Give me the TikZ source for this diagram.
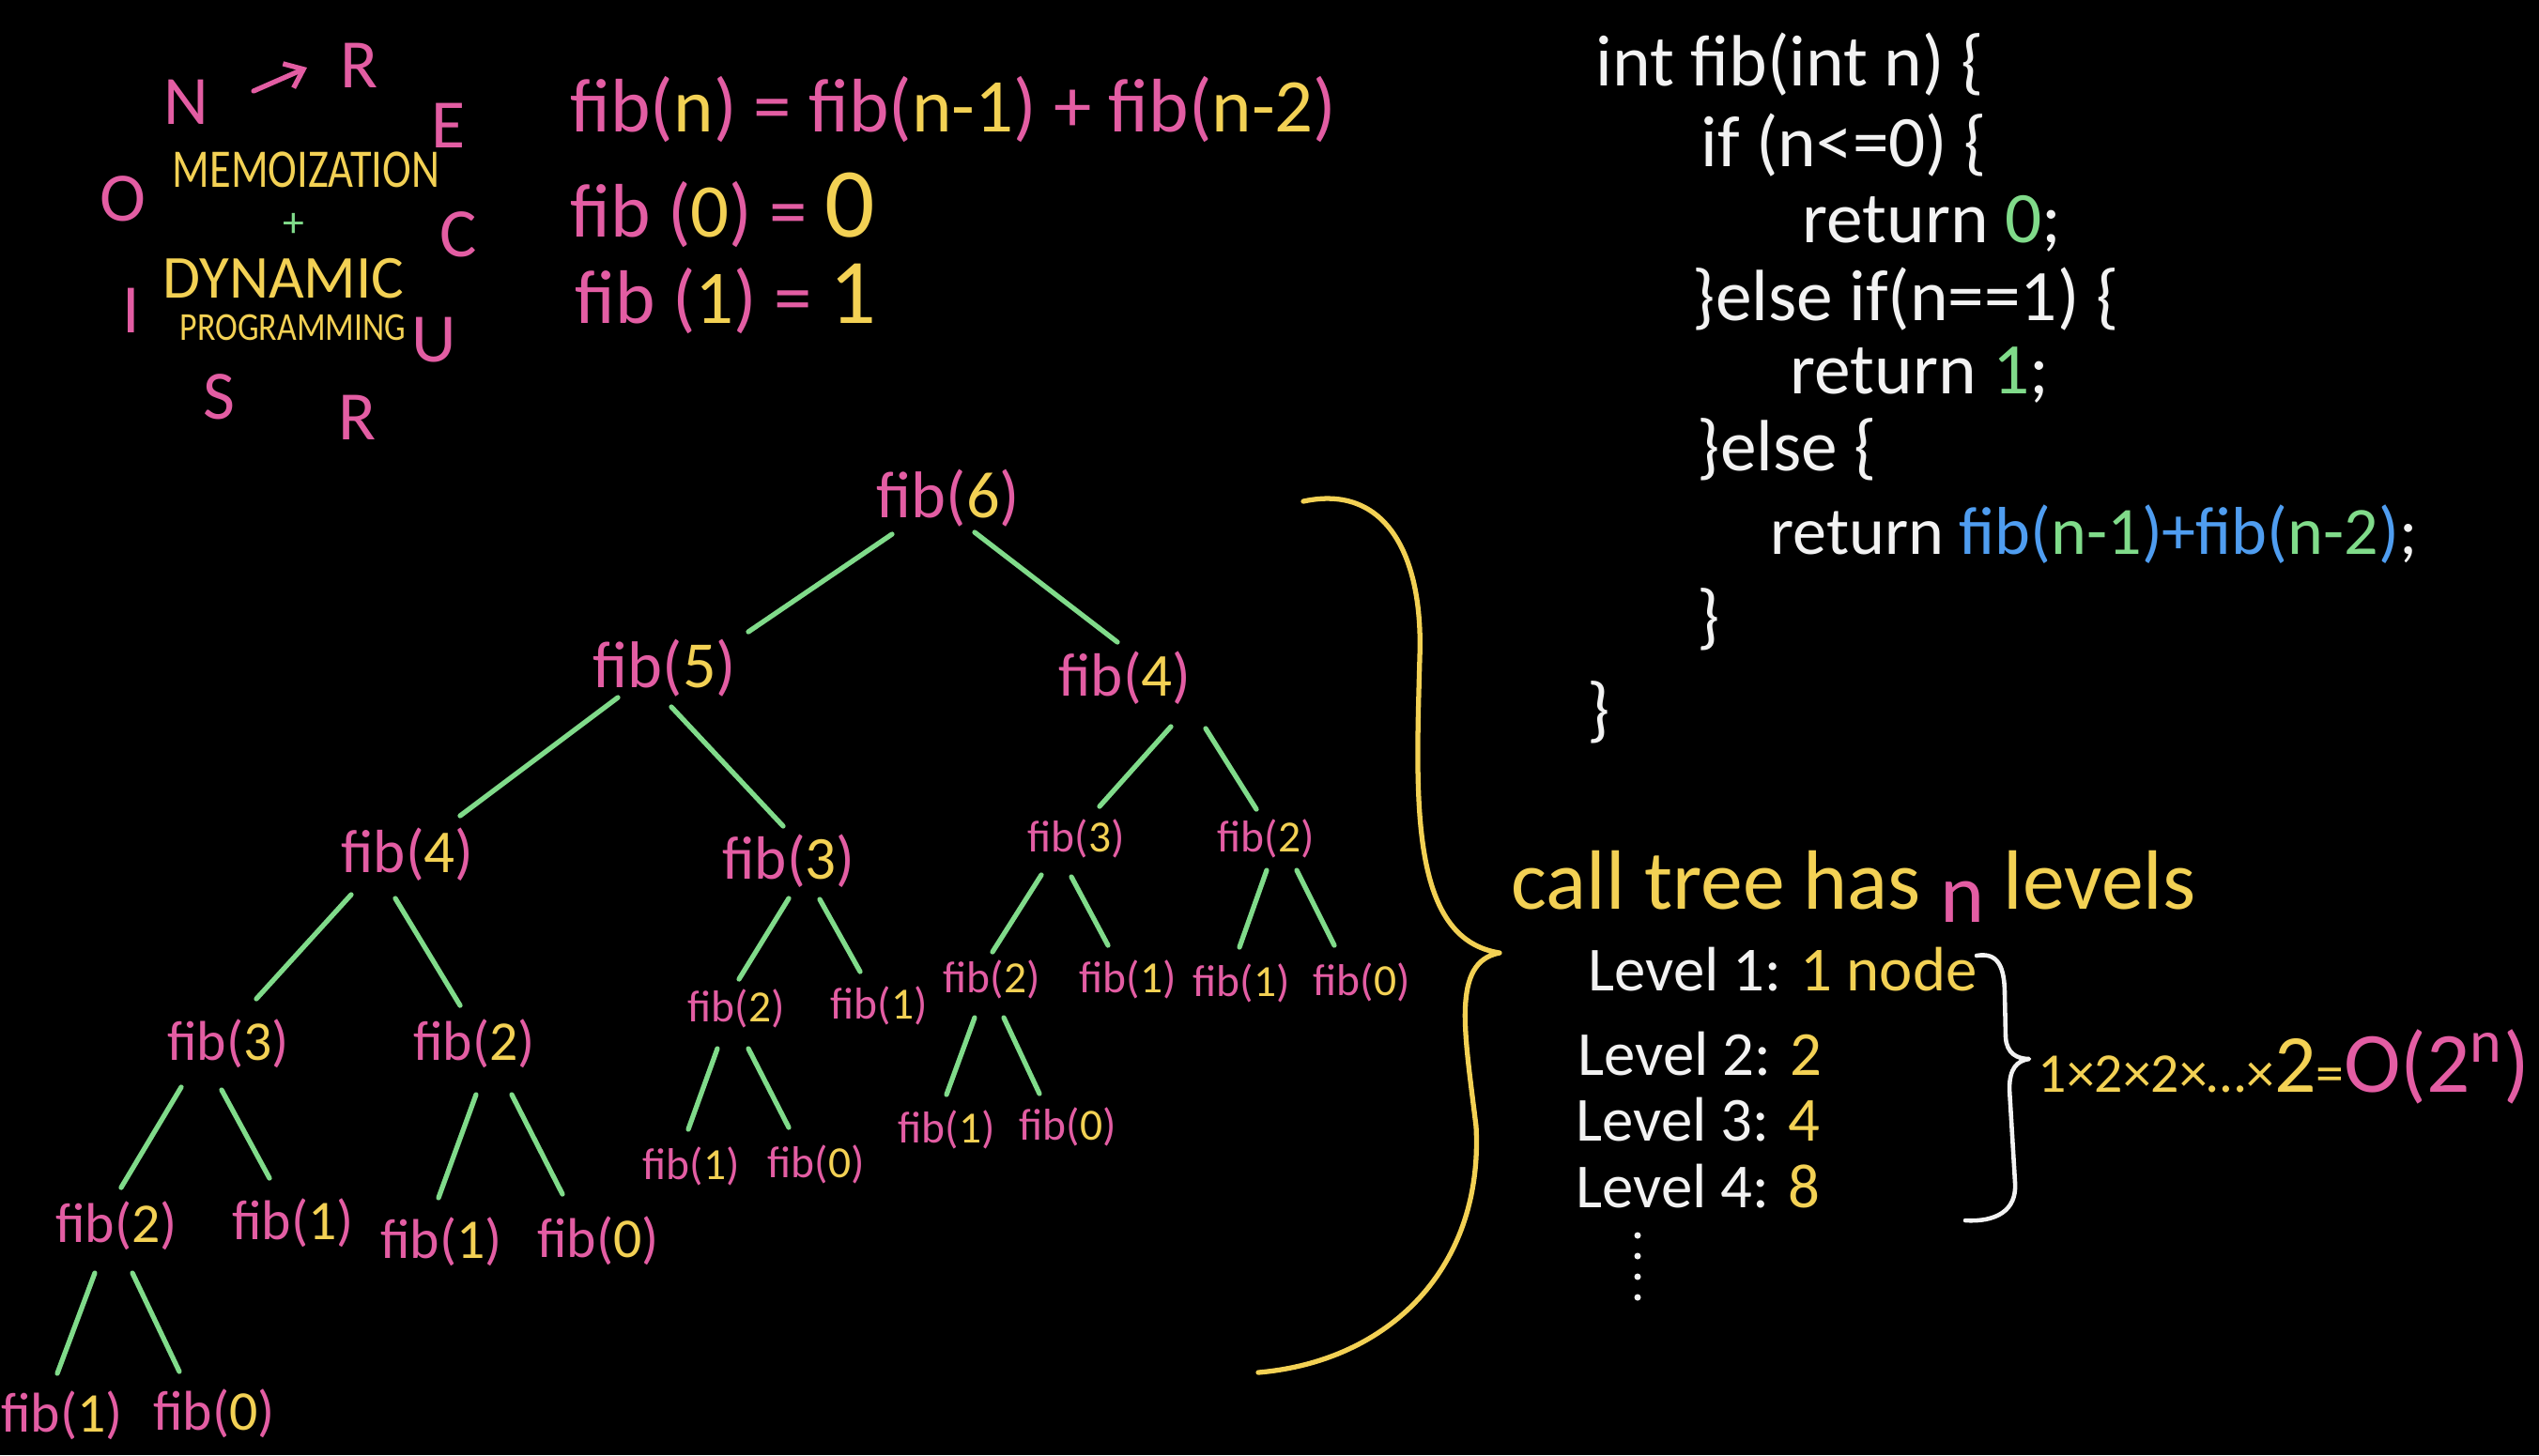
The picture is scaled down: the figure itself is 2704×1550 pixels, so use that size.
\documentclass[tikz,border=0pt]{standalone}
\usepackage{fontspec}
\setmainfont{Carlito}
\usetikzlibrary{arrows.meta}
\definecolor{pk}{HTML}{E35DA3}
\definecolor{yl}{HTML}{F3D154}
\definecolor{gn}{HTML}{80DB8A}
\definecolor{bl}{HTML}{4F9DF0}
\definecolor{wh}{HTML}{F2F2F2}
\newcommand\myfs[1]{\fontsize{#1}{#1}\selectfont}
\newcommand\fb[1]{fib(\textcolor{yl}{#1})}
\newcommand\edg[6]{\draw[edgeline] ([shift={(#2,#3)}]#1.center) -- ([shift={(#5,#6)}]#4.center);}
\begin{document}
\begin{tikzpicture}[x=0.01cm,y=-0.01cm,
  fA/.style={text=pk,inner sep=0pt,font=\myfs{20}},
  fB/.style={text=pk,inner sep=0pt,font=\myfs{18.5}},
  fC/.style={text=pk,inner sep=0pt,font=\myfs{17}},
  fD/.style={text=pk,inner sep=0pt,font=\myfs{13.5}},
  edgeline/.style={draw=gn,line width=1.5pt,line cap=round},
  lt/.style={text=pk,inner sep=0pt,font=\myfs{21}},
  eq/.style={text=pk,inner sep=0pt,anchor=west,font=\myfs{23}},
  code/.style={text=wh,inner sep=0pt,anchor=west,font=\myfs{22}},
  lv/.style={text=wh,inner sep=0pt,anchor=base west,font=\myfs{19}},
  bracel/.style={line width=1.5pt,line cap=round,line join=round}]
\fill[black] (0,0) rectangle (2704,1550);
\useasboundingbox (0,0) rectangle (2704,1550);

% ---- top-left acronym ----
\node[lt] (cN) at (198,109) {N};
\node[lt] (cR1) at (383,70) {R};
\node[lt] (cE) at (478,134) {E};
\node[lt] (cO) at (131,212) {O};
\node[lt] (cC) at (488,250) {C};
\node[lt] (cI) at (140,331) {I};
\node[lt] (cU) at (462,362) {U};
\node[lt] (cS) at (233,423) {S};
\node[lt] (cR2) at (381,445) {R};
\coordinate (arS) at (270,97);
\coordinate (arE) at (327,72);
\draw[pk,line width=1.5pt,line cap=round,-{Straight Barb[length=5pt,width=8pt]}] (arS) -- (arE);
\node[text=yl,inner sep=0pt,font=\myfs{16.5}] (memo) at (326,181) {\scalebox{0.8}[1]{MEMOIZATION}};
\node[text=gn,inner sep=0pt,font=\myfs{13}] (plus) at (313,240) {+};
\node[text=yl,inner sep=0pt,font=\myfs{18.5}] (dyn) at (302,297) {DYNAMIC};
\node[text=yl,inner sep=0pt,font=\myfs{12}] (prog) at (312,349) {\scalebox{0.85}[1]{PROGRAMMING}};

% ---- recurrence ----
\node[eq] (e1) at (607,117) {fib(\textcolor{yl}{n}) = fib(\textcolor{yl}{n-1}) + fib(\textcolor{yl}{n-2})};
\node[eq] (e2) at (607,224) {fib (\textcolor{yl}{0}) = \textcolor{yl}{\myfs{30}0}};
\node[eq] (e3) at (612,318) {fib (\textcolor{yl}{1}) = \textcolor{yl}{\myfs{28}1}};

% ---- code ----
\node[code] (c1) at (1699,69) {int fib(int n) \{};
\node[code] (c2) at (1811,155) {if (n<=0) \{};
\node[code] (c3) at (1919,238) {return \textcolor{gn}{0};};
\node[code] (c4) at (1802,319) {\}else if(n==1) \{};
\node[code] (c5) at (1906,400) {return \textcolor{gn}{1};};
\node[code] (c6) at (1807,479) {\}else \{};
\node[code,font=\myfs{20.5}] (c7) at (1885,569) {return \textcolor{bl}{fib(}\textcolor{gn}{n-1}\textcolor{bl}{)+fib(}\textcolor{gn}{n-2}\textcolor{bl}{)};};
\node[code] (c8) at (1807,660) {\}};
\node[code] (c9) at (1690,759) {\}};

% ---- tree ----
\node[fA] (n6) at (1010,531) {\fb{6}};
\node[fA] (n5) at (708,712) {\fb{5}};
\node[fB] (n4r) at (1198,722) {\fb{4}};
\node[fB] (n4l) at (434,910) {\fb{4}};
\node[fB] (n3m) at (840,917) {\fb{3}};
\node[fD] (n3r) at (1146,893) {\fb{3}};
\node[fD] (n2r) at (1348,893) {\fb{2}};
\node[fC] (n3a) at (243,1112) {\fb{3}};
\node[fC] (n2a) at (505,1112) {\fb{2}};
\node[fD] (n2m) at (784,1074) {\fb{2}};
\node[fD] (n1m) at (936,1071) {\fb{1}};
\node[fD] (n2s) at (1056,1043) {\fb{2}};
\node[fD] (n1s) at (1201,1043) {\fb{1}};
\node[fD] (n1t) at (1322,1047) {\fb{1}};
\node[fD] (n0t) at (1450,1046) {\fb{0}};
\node[fC] (n2b) at (124,1306) {\fb{2}};
\node[fC] (n1b) at (312,1303) {\fb{1}};
\node[fC] (n1c) at (470,1323) {\fb{1}};
\node[fC] (n0c) at (637,1322) {\fb{0}};
\node[fD] (n1d) at (736,1242) {\fb{1}};
\node[fD] (n0d) at (869,1240) {\fb{0}};
\node[fD] (n1e) at (1008,1203) {\fb{1}};
\node[fD] (n0e) at (1137,1200) {\fb{0}};
\node[fC] (n1f) at (66,1508) {\fb{1}};
\node[fC] (n0f) at (228,1506) {\fb{0}};

\edg{n6}{-60}{38}{n5}{89}{-39}
\edg{n6}{28}{36}{n4r}{-8}{-38}
\edg{n5}{-50}{31}{n4l}{56}{-41}
\edg{n5}{7}{41}{n3m}{-6}{-37}
\edg{n4r}{49}{52}{n3r}{25}{-34}
\edg{n4r}{86}{54}{n2r}{-10}{-31}
\edg{n4l}{-60}{43}{n3a}{30}{-48}
\edg{n4l}{-13}{47}{n2a}{-15}{-41}
\edg{n3m}{0}{40}{n2m}{3}{-31}
\edg{n3m}{33}{41}{n1m}{-20}{-36}
\edg{n3r}{-37}{39}{n2s}{1}{-29}
\edg{n3r}{-5}{41}{n1s}{-21}{-36}
\edg{n2r}{1}{34}{n1t}{-2}{-38}
\edg{n2r}{33}{34}{n0t}{-29}{-39}
\edg{n3a}{-50}{46}{n2b}{5}{-41}
\edg{n3a}{-7}{49}{n1b}{-25}{-48}
\edg{n2a}{2}{54}{n1c}{-3}{-47}
\edg{n2a}{40}{54}{n0c}{-38}{-50}
\edg{n2m}{-20}{43}{n1d}{-3}{-39}
\edg{n2m}{13}{43}{n0d}{-29}{-39}
\edg{n2s}{-18}{41}{n1e}{0}{-37}
\edg{n2s}{13}{41}{n0e}{-30}{-35}
\edg{n2b}{-23}{50}{n1f}{-5}{-45}
\edg{n2b}{17}{50}{n0f}{-37}{-45}

% ---- big yellow brace ----
\draw[bracel,yl] (1388,534) .. controls (1475,515) and (1516,590) .. (1512,700)
  .. controls (1508,850) and (1500,1000) .. (1597,1015)
  .. controls (1545,1025) and (1560,1100) .. (1572,1200)
  .. controls (1580,1350) and (1480,1450) .. (1340,1462);

% ---- levels ----
\node[anchor=base west,text=yl,inner sep=0pt,font=\myfs{25.5}] (ct) at (1609,968) {call tree has \textcolor{pk}{\raisebox{-4pt}{n}} levels};
\node[lv] (l1) at (1691,1055) {Level 1: \textcolor{yl}{1 node}};
\node[lv] (l2) at (1680,1145) {Level 2: \textcolor{yl}{2}};
\node[lv] (l3) at (1678,1215) {Level 3: \textcolor{yl}{4}};
\node[lv] (l4) at (1678,1286) {Level 4: \textcolor{yl}{8}};
\foreach \yy in {1316,1338,1360,1382} \fill[wh] (1744,\yy) circle[radius=1pt];

% ---- white brace ----
\draw[bracel,wh,line width=1.3pt] (2105,1018) .. controls (2128,1014) and (2135,1030) .. (2135,1060)
  -- (2136,1105) .. controls (2137,1122) and (2148,1128) .. (2161,1128)
  .. controls (2148,1130) and (2140,1138) .. (2140,1160)
  -- (2146,1260) .. controls (2148,1290) and (2125,1302) .. (2093,1300);

\node[anchor=west,text=yl,inner sep=0pt,font=\myfs{17}] (prod) at (2170,1136) {1×2×2×…×{\myfs{25}2}={\myfs{26}\textcolor{pk}{O(2\textsuperscript{n})}}};
\end{tikzpicture}
\end{document}
